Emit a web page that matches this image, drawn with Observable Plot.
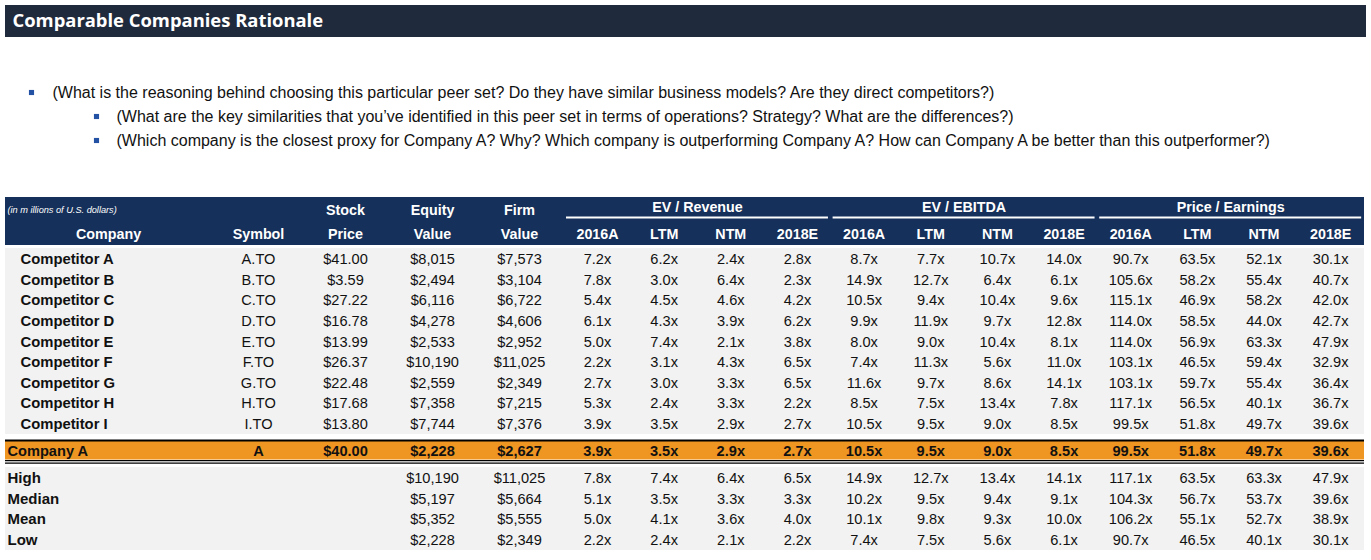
<!DOCTYPE html>
<html><head><meta charset="utf-8">
<script src="https://cdn.jsdelivr.net/npm/d3@7"></script>
<script src="https://cdn.jsdelivr.net/npm/@observablehq/plot@0.6"></script>
<style>
html,body{margin:0;padding:0;background:#fff;}
#chart svg{display:block;}
</style>
</head><body><div id="chart"></div>
<script>
// ---------------- DATA ----------------
const title = "Comparable Companies Rationale";
const bulletTexts = [
  "(What is the reasoning behind choosing this particular peer set? Do they have similar business models? Are they direct competitors?)",
  "(What are the key similarities that you\u2019ve identified in this peer set in terms of operations? Strategy? What are the differences?)",
  "(Which company is the closest proxy for Company A? Why? Which company is outperforming Company A? How can Company A be better than this outperformer?)"
];
const bulletLevels = [1, 2, 2];
const unitNote = "(in m illions of U.S. dollars)";
const headerTop = ["Stock", "Equity", "Firm"];
const headerBottom = ["Company", "Symbol", "Price", "Value", "Value"];
const groupHeaders = ["EV / Revenue", "EV / EBITDA", "Price / Earnings"];
const periods = ["2016A", "LTM", "NTM", "2018E"];

const companies = ["Competitor A","Competitor B","Competitor C","Competitor D","Competitor E","Competitor F","Competitor G","Competitor H","Competitor I"];
const symbols = ["A.TO","B.TO","C.TO","D.TO","E.TO","F.TO","G.TO","H.TO","I.TO"];
const stockPrice = [41.00, 3.59, 27.22, 16.78, 13.99, 26.37, 22.48, 17.68, 13.80];
const equityValue = [8015, 2494, 6116, 4278, 2533, 10190, 2559, 7358, 7744];
const firmValue = [7573, 3104, 6722, 4606, 2952, 11025, 2349, 7215, 7376];
const evRevenue = [
  [7.2, 6.2, 2.4, 2.8],
  [7.8, 3.0, 6.4, 2.3],
  [5.4, 4.5, 4.6, 4.2],
  [6.1, 4.3, 3.9, 6.2],
  [5.0, 7.4, 2.1, 3.8],
  [2.2, 3.1, 4.3, 6.5],
  [2.7, 3.0, 3.3, 6.5],
  [5.3, 2.4, 3.3, 2.2],
  [3.9, 3.5, 2.9, 2.7]
];
const evEbitda = [
  [8.7, 7.7, 10.7, 14.0],
  [14.9, 12.7, 6.4, 6.1],
  [10.5, 9.4, 10.4, 9.6],
  [9.9, 11.9, 9.7, 12.8],
  [8.0, 9.0, 10.4, 8.1],
  [7.4, 11.3, 5.6, 11.0],
  [11.6, 9.7, 8.6, 14.1],
  [8.5, 7.5, 13.4, 7.8],
  [10.5, 9.5, 9.0, 8.5]
];
const priceEarnings = [
  [90.7, 63.5, 52.1, 30.1],
  [105.6, 58.2, 55.4, 40.7],
  [115.1, 46.9, 58.2, 42.0],
  [114.0, 58.5, 44.0, 42.7],
  [114.0, 56.9, 63.3, 47.9],
  [103.1, 46.5, 59.4, 32.9],
  [103.1, 59.7, 55.4, 36.4],
  [117.1, 56.5, 40.1, 36.7],
  [99.5, 51.8, 49.7, 39.6]
];

const targetName = "Company A";
const targetSymbol = "A";
const targetPrice = 40.00;
const targetEquity = 2228;
const targetFirm = 2627;
const targetEvRevenue = [3.9, 3.5, 2.9, 2.7];
const targetEvEbitda = [10.5, 9.5, 9.0, 8.5];
const targetPE = [99.5, 51.8, 49.7, 39.6];

const statNames = ["High", "Median", "Mean", "Low"];
const statEquity = [10190, 5197, 5352, 2228];
const statFirm = [11025, 5664, 5555, 2349];
const statEvRevenue = [
  [7.8, 7.4, 6.4, 6.5],
  [5.1, 3.5, 3.3, 3.3],
  [5.0, 4.1, 3.6, 4.0],
  [2.2, 2.4, 2.1, 2.2]
];
const statEvEbitda = [
  [14.9, 12.7, 13.4, 14.1],
  [10.2, 9.5, 9.4, 9.1],
  [10.1, 9.8, 9.3, 10.0],
  [7.4, 7.5, 5.6, 6.1]
];
const statPE = [
  [117.1, 63.5, 63.3, 47.9],
  [104.3, 56.7, 53.7, 39.6],
  [106.2, 55.1, 52.7, 38.9],
  [90.7, 46.5, 40.1, 30.1]
];

// ---------------- LAYOUT ----------------
const W = 1371, H = 560;
const colName = 20, colStatName = 7, colSymbol = 258, colPrice = 345, colEquity = 432, colFirm = 519;
const multStart = 597, multStep = 66.65;
const multX = i => multStart + i * multStep;
const rowY = i => 259 + i * 20.6;
const targetY = 451;
const statY = i => 478 + i * 20.5;

const C = {
  titleBg: "#1f2a3c", headBg: "#15305a", body: "#f2f2f2", orange: "#ef9522",
  bullet: "#2352a4", text: "#111111"
};

const fmtPrice = v => "$" + d3.format(".2f")(v);
const fmtMoney = d3.format("$,.0f");
const fmtMult = v => d3.format(".1f")(v) + "x";

// cells
const bodyCells = [];
function pushMultiples(arrs, y, bold, out) {
  arrs.forEach((arr, g) => arr.forEach((v, p) => out.push({x: multX(g * 4 + p), y, text: fmtMult(v), bold})));
}
companies.forEach((c, i) => {
  const y = rowY(i);
  bodyCells.push({x: colSymbol, y, text: symbols[i]});
  bodyCells.push({x: colPrice, y, text: fmtPrice(stockPrice[i])});
  bodyCells.push({x: colEquity, y, text: fmtMoney(equityValue[i])});
  bodyCells.push({x: colFirm, y, text: fmtMoney(firmValue[i])});
  pushMultiples([evRevenue[i], evEbitda[i], priceEarnings[i]], y, false, bodyCells);
});
const nameCells = companies.map((c, i) => ({x: colName, y: rowY(i), text: c}));

const targetCells = [
  {x: colSymbol, y: targetY, text: targetSymbol},
  {x: colPrice, y: targetY, text: fmtPrice(targetPrice)},
  {x: colEquity, y: targetY, text: fmtMoney(targetEquity)},
  {x: colFirm, y: targetY, text: fmtMoney(targetFirm)}
];
pushMultiples([targetEvRevenue, targetEvEbitda, targetPE], targetY, true, targetCells);

const statCells = [];
statNames.forEach((s, i) => {
  const y = statY(i);
  statCells.push({x: colEquity, y, text: fmtMoney(statEquity[i])});
  statCells.push({x: colFirm, y, text: fmtMoney(statFirm[i])});
  pushMultiples([statEvRevenue[i], statEvEbitda[i], statPE[i]], y, false, statCells);
});
const statLabels = statNames.map((s, i) => ({x: colStatName, y: statY(i), text: s}));

const headTopCells = headerTop.map((t, i) => ({x: [colPrice, colEquity, colFirm][i], y: 209.5, text: t}));
const headBottomCells = headerBottom.map((t, i) => ({x: [108, colSymbol, colPrice, colEquity, colFirm][i], y: 234, text: t}));
groupHeaders.forEach((g, gi) => periods.forEach((p, pi) => headBottomCells.push({x: multX(gi * 4 + pi), y: 234, text: p})));
const groupCells = groupHeaders.map((g, gi) => ({x: (multX(gi * 4) + multX(gi * 4 + 3)) / 2, y: 207, text: g}));
const groupRules = groupHeaders.map((g, gi) => ({x1: multX(gi * 4) - 31, x2: multX(gi * 4 + 3) + 31, y: 217}));

const bands = [
  {x1: 5, x2: 1366, y1: 5, y2: 37, fill: C.titleBg},
  {x1: 5, x2: 1364, y1: 197, y2: 245, fill: C.headBg},
  {x1: 5, x2: 1364, y1: 248, y2: 434, fill: C.body},
  {x1: 5, x2: 1364, y1: 441, y2: 459.5, fill: C.orange},
  {x1: 5, x2: 1364, y1: 467, y2: 550, fill: C.body}
];
const blackRules = [
  {y: 440, w: 2.2},
  {y: 460.2, w: 1.2},
  {y: 462.6, w: 1.2}
];

const bullets = bulletTexts.map((t, i) => ({
  x: bulletLevels[i] === 1 ? 52 : 116,
  bx: bulletLevels[i] === 1 ? 31 : 96,
  y: 92 + i * 24,
  text: t
}));

const FONT = "'Liberation Sans', Arial, sans-serif";
const BODY = 14.6;

const chart = Plot.plot({
  width: W, height: H, margin: 0,
  x: {domain: [0, W], range: [0, W], axis: null},
  y: {domain: [0, H], range: [0, H], axis: null},
  color: {type: "identity"},
  style: {fontFamily: FONT, background: "#ffffff", overflow: "visible"},
  marks: [
    Plot.rect(bands, {x1: "x1", x2: "x2", y1: "y1", y2: "y2", fill: "fill"}),
    Plot.ruleY(blackRules, {y: "y", x1: 5, x2: 1364, stroke: "#000", strokeWidth: "w"}),
    Plot.ruleY(groupRules, {y: "y", x1: "x1", x2: "x2", stroke: "#fff", strokeWidth: 2.2}),
    Plot.text([title], {x: 12, y: 21, text: d => d, textAnchor: "start", fill: "#fff", fontSize: 18.4, fontWeight: "bold", fontFamily: "'Open Sans', sans-serif"}),
    Plot.dot(bullets, {x: "bx", y: "y", symbol: "square", r: 2.9, fill: C.bullet, stroke: null}),
    Plot.text(bullets, {x: "x", y: "y", text: "text", textAnchor: "start", fill: C.text, fontSize: 16}),
    Plot.text([unitNote], {x: 7, y: 210, text: d => d, textAnchor: "start", fill: "#fff", fontSize: 9.2, fontStyle: "italic"}),
    Plot.text(headTopCells, {x: "x", y: "y", text: "text", fill: "#fff", fontSize: 14.3, fontWeight: "bold"}),
    Plot.text(groupCells, {x: "x", y: "y", text: "text", fill: "#fff", fontSize: 14.3, fontWeight: "bold"}),
    Plot.text(headBottomCells, {x: "x", y: "y", text: "text", fill: "#fff", fontSize: 14.3, fontWeight: "bold"}),
    Plot.text(nameCells, {x: "x", y: "y", text: "text", textAnchor: "start", fill: C.text, fontSize: 14.8, fontWeight: "bold"}),
    Plot.text(bodyCells, {x: "x", y: "y", text: "text", fill: C.text, fontSize: BODY}),
    Plot.text([targetName], {x: colStatName, y: targetY, text: d => d, textAnchor: "start", fill: C.text, fontSize: 14.6, fontWeight: "bold"}),
    Plot.text(targetCells, {x: "x", y: "y", text: "text", fill: C.text, fontSize: BODY, fontWeight: "bold"}),
    Plot.text(statLabels, {x: "x", y: "y", text: "text", textAnchor: "start", fill: C.text, fontSize: 15, fontWeight: "bold"}),
    Plot.text(statCells, {x: "x", y: "y", text: "text", fill: C.text, fontSize: BODY})
  ]
});
document.getElementById("chart").appendChild(chart);
</script>
</body></html>
